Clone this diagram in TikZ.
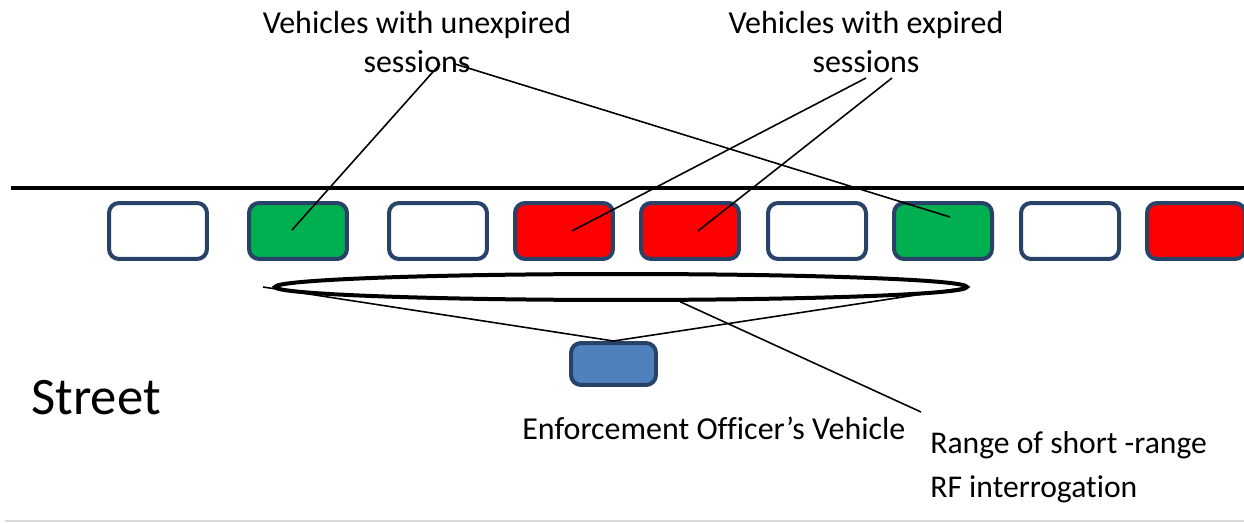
\documentclass[tikz,border=0pt]{standalone}
\usepackage{fontspec}
\setmainfont[Ligatures=NoCommon]{Carlito}
\usetikzlibrary{shapes.geometric}
\definecolor{carborder}{RGB}{41,66,104}
\definecolor{paidgreen}{RGB}{0,176,80}
\definecolor{officerblue}{RGB}{79,129,189}

\begin{document}
\begin{tikzpicture}[x=0.02cm,y=-0.02cm,
	car/.style={draw=carborder,line width=0.08cm,rounded corners=0.2cm,
		minimum width=1.96cm,minimum height=1.12cm,inner sep=0},
	label/.style={inner sep=0,font=\fontsize{18.2}{22.7}\selectfont},
	pointer/.style={line width=0.9pt}]
\useasboundingbox (0,0) rectangle (1244,523);
\clip (0,0) rectangle (1244,523);
% street edge
\draw[line width=0.08cm] (11,188) -- (1244,188);
% parked vehicles
\foreach \x/\c [count=\i] in {158/white,298/paidgreen,438/white,564/red,690/red,
		817/white,943/paidgreen,1070/white,1196/red}
	\node[car,fill=\c] (car\i) at (\x,231) {};
% reading range
\node[draw,ellipse,line width=0.08cm,minimum width=13.84cm,minimum height=0.52cm,
	inner sep=0] (range) at (621,287) {};
\node[car,fill=officerblue,minimum width=1.7cm,minimum height=0.84cm] (officer) at (613.5,364) {};
\coordinate (tip) at (263,287);
\draw[pointer] (tip) -- (officer.north) -- (range.east);
% labels
\node[label,align=center] (unexp) at (417,42) {Vehicles with unexpired\\sessions};
\node[label,align=center] (exp) at (866,42) {Vehicles with expired\\sessions};
\node[inner sep=0,anchor=base west,font=\fontsize{30}{34}\selectfont] (street) at (31,415) {Street};
\node[label,anchor=base west] (officerlabel) at (522,439) {Enforcement Officer’s Vehicle};
\node[label,align=left,anchor=north west,font=\fontsize{18}{25}\selectfont] (rflabel)
	at (930,431) {Range of short -range\\RF interrogation};
% pointers
\coordinate (u1) at (440,64);
\coordinate (u2) at (455,64);
\coordinate (e1) at (866,78);
\coordinate (e2) at (892,78);
\coordinate (rfend) at (921,412);
\draw[pointer] (u1) -- ([shift={(-6,-1)}]car2.center);
\draw[pointer] (u2) -- ([shift={(7,-14)}]car7.center);
\draw[pointer] (e1) -- ([shift={(8,0)}]car4.center);
\draw[pointer] (e2) -- ([shift={(8,0)}]car5.center);
\draw[pointer] (range.-14) -- (rfend);
\draw[gray!30,line width=1pt] (5,521) -- (1244,521);
\end{tikzpicture}
\end{document}
